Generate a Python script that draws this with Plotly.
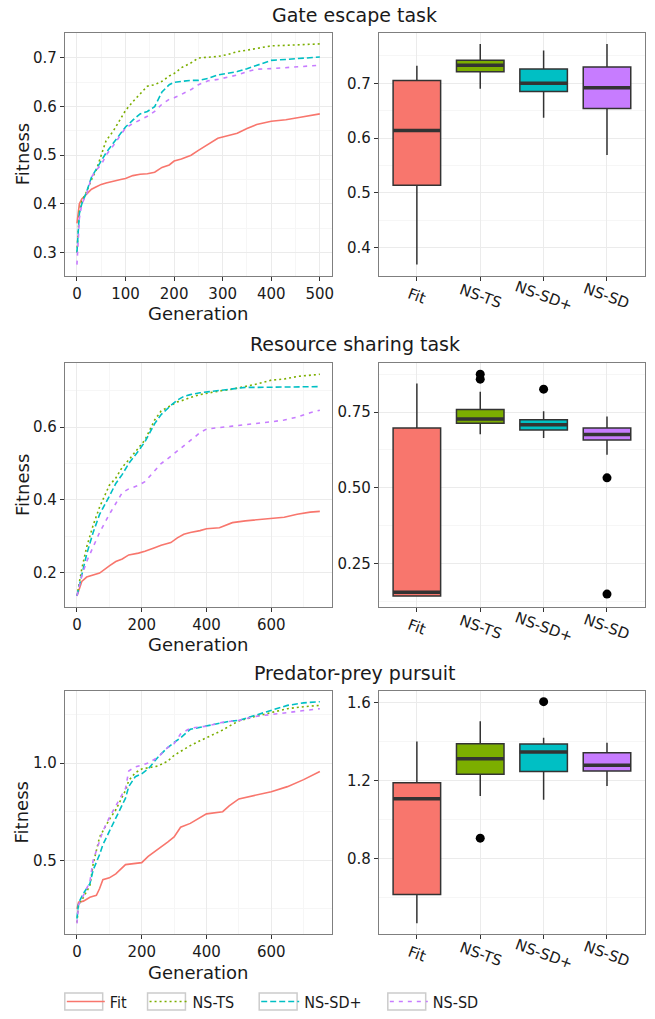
import plotly.graph_objects as go

# ---------------- data ----------------
series_names = ["Fit", "NS-TS", "NS-SD+", "NS-SD"]
colors = ["#F8766D", "#7CAE00", "#00BFC4", "#C77CFF"]
dashes = ["solid", "2px,3px", "6px,3px", "4px,5px"]
task_titles = ["Gate escape task", "Resource sharing task", "Predator-prey pursuit"]

# Task 1: gate escape (generations 0-500)
gen1 = [0, 5, 10, 20, 30, 40, 50, 60, 75, 90, 100, 115, 130, 145, 160, 175, 190, 200,
        215, 235, 250, 270, 290, 310, 330, 350, 370, 400, 430, 460, 500]
fit1 = [0.36, 0.40, 0.41, 0.42, 0.43, 0.435, 0.44, 0.443, 0.447, 0.45, 0.452, 0.458, 0.461,
        0.462, 0.465, 0.475, 0.48, 0.488, 0.492, 0.50, 0.51, 0.522, 0.535, 0.54, 0.545, 0.555,
        0.563, 0.57, 0.573, 0.578, 0.585]
nsts1 = [0.30, 0.385, 0.405, 0.425, 0.45, 0.47, 0.50, 0.53, 0.55, 0.575, 0.592, 0.61, 0.625,
         0.642, 0.645, 0.652, 0.663, 0.668, 0.68, 0.69, 0.70, 0.702, 0.703, 0.707, 0.713,
         0.716, 0.72, 0.725, 0.726, 0.727, 0.729]
nssdp1 = [0.30, 0.38, 0.40, 0.425, 0.455, 0.472, 0.49, 0.505, 0.525, 0.545, 0.558, 0.572,
          0.585, 0.59, 0.60, 0.63, 0.645, 0.65, 0.652, 0.654, 0.654, 0.658, 0.665, 0.668,
          0.672, 0.678, 0.685, 0.695, 0.697, 0.699, 0.702]
nssd1 = [0.275, 0.37, 0.40, 0.42, 0.455, 0.47, 0.48, 0.50, 0.52, 0.542, 0.556, 0.565, 0.573,
         0.58, 0.59, 0.605, 0.615, 0.618, 0.625, 0.635, 0.645, 0.653, 0.656, 0.66, 0.665,
         0.672, 0.677, 0.678, 0.68, 0.682, 0.685]

# Task 2: resource sharing (generations 0-750)
gen2 = [0, 15, 30, 50, 70, 100, 120, 140, 160, 190, 210, 240, 260, 290, 310, 330, 350, 380,
        400, 440, 480, 520, 560, 600, 640, 680, 720, 750]
fit2 = [0.135, 0.175, 0.187, 0.193, 0.198, 0.218, 0.23, 0.237, 0.248, 0.253, 0.258, 0.268,
        0.275, 0.282, 0.295, 0.305, 0.31, 0.315, 0.32, 0.323, 0.337, 0.342, 0.346, 0.35,
        0.352, 0.36, 0.366, 0.368]
nsts2 = [0.135, 0.21, 0.27, 0.33, 0.38, 0.44, 0.46, 0.49, 0.51, 0.545, 0.565, 0.62, 0.645,
         0.66, 0.67, 0.675, 0.682, 0.69, 0.694, 0.70, 0.705, 0.712, 0.72, 0.73, 0.733, 0.74,
         0.744, 0.746]
nssdp2 = [0.135, 0.19, 0.25, 0.31, 0.36, 0.41, 0.445, 0.47, 0.50, 0.535, 0.56, 0.61, 0.635,
          0.66, 0.675, 0.685, 0.69, 0.695, 0.697, 0.70, 0.705, 0.71, 0.71, 0.71, 0.71, 0.711,
          0.712, 0.712]
nssd2 = [0.135, 0.19, 0.23, 0.27, 0.31, 0.36, 0.39, 0.42, 0.43, 0.44, 0.45, 0.48, 0.50, 0.52,
         0.535, 0.55, 0.565, 0.585, 0.595, 0.60, 0.603, 0.607, 0.61, 0.615, 0.62, 0.628,
         0.64, 0.647]

# Task 3: predator-prey pursuit (generations 0-750)
gen3 = [0, 5, 20, 40, 50, 60, 70, 80, 100, 120, 150, 160, 180, 200, 220, 250, 280, 300, 320,
        350, 380, 400, 450, 470, 500, 550, 600, 650, 700, 750]
fit3 = [0.25, 0.285, 0.29, 0.31, 0.315, 0.32, 0.355, 0.40, 0.41, 0.43, 0.478, 0.48, 0.483,
        0.488, 0.52, 0.555, 0.594, 0.62, 0.67, 0.69, 0.718, 0.739, 0.75, 0.78, 0.816, 0.836,
        0.853, 0.879, 0.915, 0.957]
nsts3 = [0.18, 0.27, 0.31, 0.37, 0.48, 0.55, 0.62, 0.65, 0.71, 0.76, 0.86, 0.91, 0.95, 0.97,
         0.975, 0.985, 1.01, 1.04, 1.06, 1.09, 1.115, 1.13, 1.17, 1.19, 1.217, 1.24, 1.26,
         1.28, 1.29, 1.297]
nssdp3 = [0.2, 0.28, 0.33, 0.38, 0.45, 0.49, 0.53, 0.58, 0.65, 0.72, 0.82, 0.88, 0.93, 0.945,
          0.97, 1.03, 1.08, 1.106, 1.13, 1.174, 1.185, 1.19, 1.21, 1.215, 1.22, 1.245, 1.268,
          1.297, 1.31, 1.316]
nssd3 = [0.176, 0.27, 0.32, 0.39, 0.50, 0.55, 0.60, 0.65, 0.72, 0.78, 0.87, 0.96, 0.98, 0.99,
         1.0, 1.03, 1.08, 1.10, 1.15, 1.18, 1.185, 1.19, 1.21, 1.215, 1.22, 1.24, 1.25, 1.26,
         1.27, 1.28]

# Final-fitness box statistics, order: Fit, NS-TS, NS-SD+, NS-SD
box1_low = [0.369, 0.690, 0.637, 0.569]
box1_q1 = [0.514, 0.721, 0.685, 0.654]
box1_med = [0.614, 0.733, 0.700, 0.692]
box1_q3 = [0.705, 0.742, 0.726, 0.730]
box1_high = [0.732, 0.772, 0.760, 0.772]
box1_out = [[], [], [], []]

box2_low = [0.143, 0.677, 0.665, 0.609]
box2_q1 = [0.143, 0.713, 0.691, 0.658]
box2_med = [0.155, 0.727, 0.708, 0.676]
box2_q3 = [0.698, 0.759, 0.725, 0.698]
box2_high = [0.845, 0.817, 0.753, 0.736]
box2_out = [[], [0.875, 0.859], [0.826], [0.533, 0.149]]

box3_low = [0.468, 1.120, 1.101, 1.171]
box3_q1 = [0.616, 1.231, 1.246, 1.248]
box3_med = [1.106, 1.311, 1.345, 1.278]
box3_q3 = [1.188, 1.387, 1.386, 1.341]
box3_high = [1.399, 1.503, 1.418, 1.392]
box3_out = [[], [0.904], [1.603], []]

line_data = [
    (gen1, [fit1, nsts1, nssdp1, nssd1]),
    (gen2, [fit2, nsts2, nssdp2, nssd2]),
    (gen3, [fit3, nsts3, nssdp3, nssd3]),
]
box_data = [
    (box1_low, box1_q1, box1_med, box1_q3, box1_high, box1_out),
    (box2_low, box2_q1, box2_med, box2_q3, box2_high, box2_out),
    (box3_low, box3_q1, box3_med, box3_q3, box3_high, box3_out),
]

line_x_ticks = [[0, 100, 200, 300, 400, 500], [0, 200, 400, 600], [0, 200, 400, 600]]
line_y_ticks = [[0.3, 0.4, 0.5, 0.6, 0.7], [0.2, 0.4, 0.6], [0.5, 1.0]]
box_y_ticks = [[0.4, 0.5, 0.6, 0.7], [0.25, 0.50, 0.75], [0.8, 1.2, 1.6]]
line_y_fmt = [".1f", ".1f", ".1f"]
box_y_fmt = [".1f", ".2f", ".1f"]

# ---------------- layout geometry (screen px of the target page) ----------------
W, H = 655, 1019
left_px = (65, 333)
right_px = (380, 647)
rows_px = [(33, 277), (365, 610), (694, 939)]
title_y_px = [15, 346, 676]
legend_key_px = [65, 148, 260, 389]
legend_y_px = (998, 1015)
FONT = "DejaVu Sans"
GRID = "#ebebeb"
MINOR = "#f6f6f6"
BORDER = "#7f7f7f"
TXT = "#1a1a1a"


def px_x(a):
    return a / W


def px_y(a):
    return 1 - a / H


def xd(a, b):
    return [px_x(a), px_x(b)]


def yd(a, b):
    return [px_y(b), px_y(a)]


def expand(lo, hi, f=0.05):
    s = hi - lo
    return [lo - s * f, hi + s * f]


fig = go.Figure()
layout = dict(
    width=W, height=H, margin=dict(l=0, r=0, t=0, b=0),
    paper_bgcolor="white", plot_bgcolor="white",
    font=dict(family=FONT, size=15, color=TXT),
    showlegend=True,
    annotations=[], shapes=[],
)

axis_common = dict(
    showline=True, linecolor=BORDER, linewidth=1, mirror=True,
    showgrid=True, gridcolor=GRID, gridwidth=1, zeroline=False,
    ticks="outside", ticklen=4, tickwidth=1, tickcolor="#333333",
    tickfont=dict(family=FONT, size=15, color=TXT),
)

legend_ids = ["legend", "legend2", "legend3", "legend4"]

for r in range(3):
    top, bot = rows_px[r]
    # ---- line panel ----
    k = 2 * r + 1
    gens, vals = line_data[r]
    for s in range(4):
        fig.add_trace(go.Scatter(
            x=gens, y=vals[s], mode="lines", name=series_names[s],
            line=dict(color=colors[s], width=1.6, dash=dashes[s]),
            xaxis=f"x{k}", yaxis=f"y{k}", legendgroup=series_names[s],
            legend=legend_ids[s], showlegend=(r == 0), hoverinfo="skip",
        ))
    allv = [v for sv in vals for v in sv]
    xr = expand(min(gens), max(gens))
    yr = expand(min(allv), max(allv))
    xt = line_x_ticks[r]
    yt = line_y_ticks[r]
    xstep = xt[1] - xt[0]
    xminor = [v + xstep / 2 for v in xt]
    layout[f"xaxis{k}"] = dict(axis_common, domain=xd(*left_px), anchor=f"y{k}", range=xr,
                               tickvals=xt, ticktext=[str(v) for v in xt],
                               minor=dict(tickvals=xminor, showgrid=True, gridcolor=MINOR, ticks=""))
    ystep = yt[1] - yt[0]
    yminor = [yt[0] - ystep / 2] + [v + ystep / 2 for v in yt]
    layout[f"yaxis{k}"] = dict(axis_common, domain=yd(top, bot), anchor=f"x{k}", range=yr,
                               tickvals=yt, ticktext=[format(v, line_y_fmt[r]) for v in yt],
                               minor=dict(tickvals=yminor, showgrid=True, gridcolor=MINOR, ticks=""))
    # axis titles
    layout["annotations"].append(dict(text="Fitness", xref="paper", yref="paper",
                                      x=px_x(22), y=px_y((top + bot) / 2), textangle=-90,
                                      showarrow=False, font=dict(size=18, family=FONT, color=TXT),
                                      xanchor="center", yanchor="middle"))
    layout["annotations"].append(dict(text="Generation", xref="paper", yref="paper",
                                      x=px_x((left_px[0] + left_px[1]) / 2), y=px_y(bot + 38),
                                      showarrow=False, font=dict(size=18, family=FONT, color=TXT),
                                      xanchor="center", yanchor="middle"))
    # panel title
    layout["annotations"].append(dict(text=task_titles[r], xref="paper", yref="paper",
                                      x=px_x((left_px[0] + right_px[1]) / 2), y=px_y(title_y_px[r]),
                                      showarrow=False, font=dict(size=19, family=FONT, color=TXT),
                                      xanchor="center", yanchor="middle"))

    # ---- box panel ----
    k = 2 * r + 2
    low, q1, med, q3, high, outs = box_data[r]
    for s in range(4):
        fig.add_trace(go.Box(
            x=[s], q1=[q1[s]], median=[med[s]], q3=[q3[s]],
            lowerfence=[low[s]], upperfence=[high[s]],
            fillcolor=colors[s], line=dict(color="#333333", width=1.5),
            width=0.75, whiskerwidth=0, boxpoints=False,
            xaxis=f"x{k}", yaxis=f"y{k}", showlegend=False, hoverinfo="skip",
        ))
        # thick median bar
        fig.add_trace(go.Scatter(
            x=[s - 0.375, s + 0.375], y=[med[s], med[s]], mode="lines",
            line=dict(color="#333333", width=3.5), xaxis=f"x{k}", yaxis=f"y{k}",
            showlegend=False, hoverinfo="skip",
        ))
        if outs[s]:
            fig.add_trace(go.Scatter(
                x=[s] * len(outs[s]), y=outs[s], mode="markers",
                marker=dict(color="black", size=9), xaxis=f"x{k}", yaxis=f"y{k}",
                showlegend=False, hoverinfo="skip",
            ))
        layout["annotations"].append(dict(text=series_names[s], xref=f"x{k}", yref="paper",
                                          x=s, y=px_y(bot + 20), textangle=20,
                                          showarrow=False, font=dict(size=15, family=FONT, color=TXT),
                                          xanchor="center", yanchor="middle"))
    allb = low + high + [v for o in outs for v in o]
    byr = expand(min(allb), max(allb))
    yt = box_y_ticks[r]
    ystep = yt[1] - yt[0]
    yminor = [yt[0] - ystep / 2] + [v + ystep / 2 for v in yt]
    layout[f"xaxis{k}"] = dict(axis_common, domain=xd(*right_px), anchor=f"y{k}", range=[-0.6, 3.6],
                               tickvals=[0, 1, 2, 3], showticklabels=False)
    layout[f"yaxis{k}"] = dict(axis_common, domain=yd(top, bot), anchor=f"x{k}", range=byr,
                               tickvals=yt, ticktext=[format(v, box_y_fmt[r]) for v in yt],
                               minor=dict(tickvals=yminor, showgrid=True, gridcolor=MINOR, ticks=""))

# one legend per entry so each key can sit where the reference has it
ly = (legend_y_px[0] + legend_y_px[1]) / 2
for s, lid in enumerate(legend_ids):
    layout[lid] = dict(orientation="h", x=px_x(legend_key_px[s] - 3), xanchor="left",
                       y=px_y(ly), yanchor="middle",
                       font=dict(family="DejaVu Sans Condensed", size=16, color=TXT),
                       itemwidth=38, bgcolor="rgba(0,0,0,0)")
    layout["shapes"].append(dict(type="rect", xref="paper", yref="paper",
                                 x0=px_x(legend_key_px[s]), x1=px_x(legend_key_px[s] + 38),
                                 y0=px_y(legend_y_px[1]), y1=px_y(legend_y_px[0]),
                                 line=dict(color="#cccccc", width=1.5), layer="below"))

fig.update_layout(**layout)
fig.write_html("out.html", config={"displayModeBar": False},
               post_script="document.body.style.margin='0';")
